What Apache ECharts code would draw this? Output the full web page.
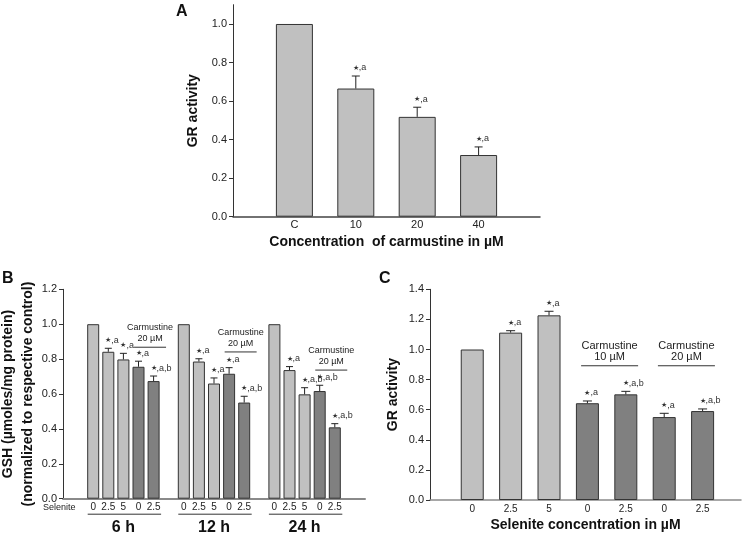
<!DOCTYPE html>
<html><head><meta charset="utf-8">
<script src="https://cdn.jsdelivr.net/npm/echarts@6/dist/echarts.min.js"></script>
<style>html,body{margin:0;padding:0;background:#fff}#c{width:742px;height:538px}</style>
</head><body><div id="c"></div>
<script>
// ---------- Panel A ----------
const aCategories = ['C', '10', '20', '40'];
const aValues = [1.0, 0.665, 0.518, 0.320];
const aErrors = [0, 0.065, 0.050, 0.042];
const aMarks = ['', '★,a', '★,a', '★,a'];
const aYTicks = [0, 0.2, 0.4, 0.6, 0.8, 1.0];

// ---------- Panel B ----------
const bGroups = ['6 h', '12 h', '24 h'];
const bSelenite = ['0', '2.5', '5', '0', '2.5'];
const bCarmustine = [0, 0, 0, 20, 20];
const bValues6 = [1.0, 0.842, 0.798, 0.756, 0.674];
const bValues12 = [1.0, 0.786, 0.660, 0.716, 0.551];
const bValues24 = [1.0, 0.737, 0.598, 0.617, 0.409];
const bErrors6 = [0, 0.020, 0.035, 0.032, 0.029];
const bErrors12 = [0, 0.016, 0.032, 0.035, 0.036];
const bErrors24 = [0, 0.020, 0.038, 0.033, 0.021];
const bMarks6 = ['', '★,a', '★,a', '★,a', '★,a,b'];
const bMarks12 = ['', '★,a', '★,a', '★,a', '★,a,b'];
const bMarks24 = ['', '★,a', '★,a,b', '★,a,b', '★,a,b'];
const bCarmLineY = [0.868, 0.841, 0.737];
const bCarmText = ['Carmustine', '20 µM'];
const bYTicks = [0, 0.2, 0.4, 0.6, 0.8, 1.0, 1.2];

// ---------- Panel C ----------
const cSelenite = ['0', '2.5', '5', '0', '2.5', '0', '2.5'];
const cCarmustine = [0, 0, 0, 10, 10, 20, 20];
const cValues = [1.0, 1.112, 1.227, 0.643, 0.702, 0.551, 0.591];
const cErrors = [0, 0.013, 0.027, 0.015, 0.020, 0.025, 0.014];
const cMarks = ['', '★,a', '★,a', '★,a', '★,a,b', '★,a', '★,a,b'];
const cCarmDoses = ['10 µM', '20 µM'];
const cCarmLineY = [0.892, 0.892];
const cYTicks = [0, 0.2, 0.4, 0.6, 0.8, 1.0, 1.2, 1.4];

// ---------- styling ----------
const FONT = 'Liberation Sans, Arial, Helvetica, sans-serif';
const LIGHT = '#c0c0c0', DARK = '#808080', EDGE = '#333';

const bSeries = [
  {v: bValues6, e: bErrors6, m: bMarks6},
  {v: bValues12, e: bErrors12, m: bMarks12},
  {v: bValues24, e: bErrors24, m: bMarks24}
];
const bBars = [], bErr = [], bMarksAll = [], bTickPos = [];
bSeries.forEach((g, gi) => {
  g.v.forEach((val, i) => {
    const x = gi * 6 + i;
    bTickPos.push(x);
    bBars.push({value: [x, val], itemStyle: {color: bCarmustine[i] ? DARK : LIGHT}});
    bErr.push([x, val, g.e[i]]);
    bMarksAll.push(g.m[i]);
  });
});

function errRender(marks, capHalf) {
  return function (params, api) {
    const x = api.value(0), v = api.value(1), e = api.value(2);
    const top = api.coord([x, v]);
    const cap = api.coord([x, v + e]);
    const ch = [];
    if (e > 0) {
      ch.push({type: 'line', shape: {x1: top[0], y1: top[1], x2: cap[0], y2: cap[1]}, style: {stroke: '#222', lineWidth: 1}});
      ch.push({type: 'line', shape: {x1: cap[0] - capHalf, y1: cap[1], x2: cap[0] + capHalf, y2: cap[1]}, style: {stroke: '#222', lineWidth: 1}});
    }
    const m = marks[params.dataIndex];
    if (m) {
      ch.push({type: 'text', x: cap[0] - 3, y: cap[1] - 8, style: {
        text: '{s|★}' + m.slice(1), rich: {s: {fontSize: 7, fill: '#333'}},
        fontSize: 9, fontFamily: FONT, fill: '#333', align: 'left', verticalAlign: 'middle'}});
    }
    return {type: 'group', children: ch};
  };
}

function carmRender(lines, halfLen, shift, fs) {
  return function (params, api) {
    const x1 = api.value(0), x2 = api.value(1), y = api.value(2);
    const p1 = api.coord([x1, y]), p2 = api.coord([x2, y]);
    const cx = (p1[0] + p2[0]) / 2 + shift;
    const t = lines[params.dataIndex];
    return {type: 'group', children: [
      {type: 'line', shape: {x1: cx - halfLen, y1: p1[1], x2: cx + halfLen, y2: p1[1]}, style: {stroke: '#333', lineWidth: 1}},
      {type: 'text', x: cx, y: p1[1] - 19.5, style: {text: t[0], fontSize: fs, fontFamily: FONT, fill: '#222', align: 'center', verticalAlign: 'middle'}},
      {type: 'text', x: cx, y: p1[1] - 8.5, style: {text: t[1], fontSize: fs, fontFamily: FONT, fill: '#222', align: 'center', verticalAlign: 'middle'}}
    ]};
  };
}

const bCarmData = bGroups.map((g, gi) => [gi * 6 + 3, gi * 6 + 4, bCarmLineY[gi]]);
const bCarmLines = bGroups.map(() => bCarmText);
const cCarmData = cCarmDoses.map((d, k) => [3 + 2 * k, 4 + 2 * k, cCarmLineY[k]]);
const cCarmLines = cCarmDoses.map(d => ['Carmustine', d]);
const bGroupData = bGroups.map((g, gi) => [gi * 6, gi * 6 + 4]);

const yAxisBase = (gridIndex, max, ticks, name, gap) => ({
  type: 'value', gridIndex, min: 0, max,
  name, nameLocation: 'middle', nameGap: gap,
  nameTextStyle: {fontFamily: FONT, fontSize: 14, fontWeight: 'bold', color: '#111', lineHeight: 20},
  axisLine: {show: true, onZero: false, lineStyle: {color: EDGE, width: 1}},
  axisTick: {show: true, inside: false, length: 4, lineStyle: {color: EDGE}, customValues: ticks},
  axisLabel: {customValues: ticks, margin: 6, fontFamily: FONT, fontSize: 11, color: '#222', formatter: v => v.toFixed(1)},
  splitLine: {show: false}
});

const option = {
  animation: false,
  backgroundColor: '#fff',
  grid: [
    {left: 233, top: 4.7, width: 307, height: 212, containLabel: false, outerBoundsMode: 'none'},
    {left: 63, top: 289.3, width: 302, height: 209.4, containLabel: false, outerBoundsMode: 'none'},
    {left: 430, top: 289.3, width: 311, height: 210.7, containLabel: false, outerBoundsMode: 'none'}
  ],
  xAxis: [
    {type: 'value', gridIndex: 0, min: -1, max: 4,
     name: 'Concentration  of carmustine in µM', nameLocation: 'middle', nameGap: 18,
     nameTextStyle: {fontFamily: FONT, fontSize: 14, fontWeight: 'bold', color: '#111'},
     axisLine: {show: true, onZero: false, lineStyle: {color: '#444', width: 1.5}},
     axisTick: {show: false},
     axisLabel: {customValues: [0, 1, 2, 3], margin: 3, fontFamily: FONT, fontSize: 11, color: '#222', formatter: v => aCategories[Math.round(v)]},
     splitLine: {show: false}},
    {type: 'value', gridIndex: 1, min: -2, max: 18,
     axisLine: {show: true, onZero: false, lineStyle: {color: '#8a8a8a', width: 2}},
     axisTick: {show: false},
     axisLabel: {customValues: bTickPos, margin: 4, fontFamily: FONT, fontSize: 10, color: '#222', formatter: v => bSelenite[Math.round(v) % 6]},
     splitLine: {show: false}},
    {type: 'value', gridIndex: 2, min: -1.1, max: 7.0,
     name: 'Selenite concentration in µM', nameLocation: 'middle', nameGap: 18,
     nameTextStyle: {fontFamily: FONT, fontSize: 14, fontWeight: 'bold', color: '#111'},
     axisLine: {show: true, onZero: false, lineStyle: {color: '#8a8a8a', width: 1.5}},
     axisTick: {show: false},
     axisLabel: {customValues: [0, 1, 2, 3, 4, 5, 6], margin: 4, fontFamily: FONT, fontSize: 10, color: '#222', formatter: v => cSelenite[Math.round(v)]},
     splitLine: {show: false}}
  ],
  yAxis: [
    yAxisBase(0, 1.1, aYTicks, 'GR activity', 30),
    yAxisBase(1, 1.2, bYTicks, 'GSH (µmoles/mg protein)\n(normalized to respective control)', 19),
    yAxisBase(2, 1.4, cYTicks, 'GR activity', 27)
  ],
  graphic: [
    {type: 'text', left: 176, top: 4, style: {text: 'A', fontFamily: FONT, fontSize: 16, fontWeight: 'bold', fill: '#111'}},
    {type: 'text', left: 2, top: 271, style: {text: 'B', fontFamily: FONT, fontSize: 16, fontWeight: 'bold', fill: '#111'}},
    {type: 'text', left: 379, top: 271, style: {text: 'C', fontFamily: FONT, fontSize: 16, fontWeight: 'bold', fill: '#111'}},
    {type: 'text', left: 43, top: 503, style: {text: 'Selenite', fontFamily: FONT, fontSize: 9, fill: '#222'}}
  ],
  series: [
    {type: 'bar', xAxisIndex: 0, yAxisIndex: 0, barWidth: 37,
     itemStyle: {color: LIGHT, borderColor: EDGE, borderWidth: 1},
     data: aValues.map((v, i) => [i, v])},
    {type: 'custom', xAxisIndex: 0, yAxisIndex: 0, clip: false, z: 5,
     renderItem: errRender(aMarks, 4),
     data: aValues.map((v, i) => [i, v, aErrors[i]])},
    {type: 'bar', xAxisIndex: 1, yAxisIndex: 1, barWidth: 12,
     itemStyle: {borderColor: EDGE, borderWidth: 1},
     data: bBars},
    {type: 'custom', xAxisIndex: 1, yAxisIndex: 1, clip: false, z: 5,
     renderItem: errRender(bMarksAll, 3.5),
     data: bErr},
    {type: 'custom', xAxisIndex: 1, yAxisIndex: 1, clip: false, z: 5,
     renderItem: carmRender(bCarmLines, 16, 4, 9),
     data: bCarmData},
    {type: 'custom', xAxisIndex: 1, yAxisIndex: 1, clip: false, z: 5,
     renderItem: function (params, api) {
       const p1 = api.coord([api.value(0), 0]), p2 = api.coord([api.value(1), 0]);
       const y = p1[1];
       return {type: 'group', children: [
         {type: 'line', shape: {x1: p1[0] - 5.5, y1: y + 15.5, x2: p2[0] + 7.5, y2: y + 15.5}, style: {stroke: '#333', lineWidth: 1}},
         {type: 'text', x: (p1[0] + p2[0]) / 2, y: y + 29, style: {text: bGroups[params.dataIndex], fontFamily: FONT, fontSize: 16, fontWeight: 'bold', fill: '#111', align: 'center', verticalAlign: 'middle'}}
       ]};
     },
     data: bGroupData},
    {type: 'bar', xAxisIndex: 2, yAxisIndex: 2, barWidth: 23,
     itemStyle: {borderColor: EDGE, borderWidth: 1},
     data: cValues.map((v, i) => ({value: [i, v], itemStyle: {color: cCarmustine[i] ? DARK : LIGHT}}))},
    {type: 'custom', xAxisIndex: 2, yAxisIndex: 2, clip: false, z: 5,
     renderItem: errRender(cMarks, 4.5),
     data: cValues.map((v, i) => [i, v, cErrors[i]])},
    {type: 'custom', xAxisIndex: 2, yAxisIndex: 2, clip: false, z: 5,
     renderItem: carmRender(cCarmLines, 28.5, 3, 11),
     data: cCarmData}
  ]
};

const chart = echarts.init(document.getElementById('c'), null, {renderer: 'canvas'});
chart.setOption(option);
</script>
</body></html>
